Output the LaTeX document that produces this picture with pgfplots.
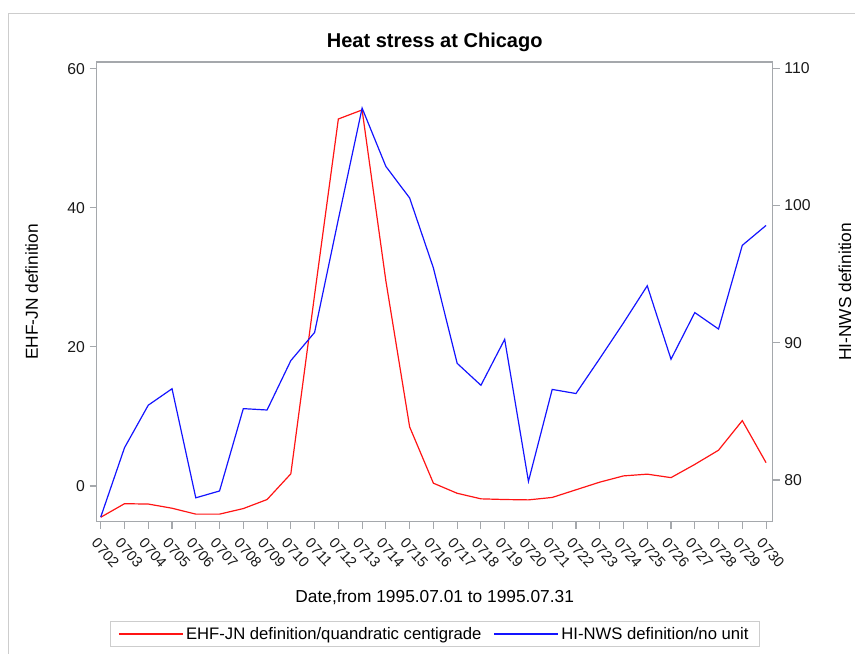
\documentclass[border=0pt]{standalone}
\usepackage{pgfplots}
\pgfplotsset{compat=1.18}
\usepackage{pgfplotstable}
\usepackage{fontspec}
\setmainfont{Liberation Sans}

\definecolor{framegray}{RGB}{165,168,172}
\definecolor{bordergray}{RGB}{205,205,205}
\definecolor{myred}{RGB}{255,20,20}
\definecolor{myblue}{RGB}{20,20,255}

\pgfplotstableread{
x ehf hi
0 -4.5 77.3
1 -2.55 82.35
2 -2.6 85.45
3 -3.2 86.65
4 -4.05 78.7
5 -4.05 79.2
6 -3.25 85.2
7 -1.95 85.1
8 1.75 88.7
9 27.5 90.75
10 52.8 99.0
11 54.1 107.1
12 29.5 102.85
13 8.5 100.55
14 0.4 95.45
15 -1.05 88.5
16 -1.85 86.9
17 -1.95 90.25
18 -2.0 79.9
19 -1.65 86.6
20 -0.55 86.3
21 0.55 88.85
22 1.45 91.45
23 1.7 94.15
24 1.2 88.8
25 3.1 92.2
26 5.15 91.0
27 9.4 97.1
28 3.35 98.55
}\datatable

\begin{document}
\begin{tikzpicture}
\useasboundingbox (0pt,0pt) rectangle (641.25pt,489.75pt);
\draw[bordergray, line width=0.8pt] (6.225pt,-5pt) -- (6.225pt,479.475pt) -- (650pt,479.475pt);

\begin{axis}[
  at={(72.525pt,98.475pt)}, anchor=south west,
  scale only axis, width=507pt, height=344.775pt,
  xmin=-0.17, xmax=28.28, ymin=-5.14, ymax=61.0,
  axis line style={framegray, line width=0.8pt},
  tick style={framegray, line width=0.8pt},
  xtick={0,...,28},
  xticklabels={0702,0703,0704,0705,0706,0707,0708,0709,0710,0711,0712,0713,0714,0715,0716,0717,0718,0719,0720,0721,0722,0723,0724,0725,0726,0727,0728,0729,0730},
  ytick={0,20,40,60},
  xtick pos=bottom, ytick pos=left,
  tick align=outside, major tick length=5.25pt,
  /pgf/number format/assume math mode=true,
  yticklabel style={font=\fontsize{11.8}{14}\selectfont, text=black!90},
  xticklabel style={font=\fontsize{11}{13}\selectfont, text=black!90, rotate=-48, anchor=north west, yshift=-2pt},
  title={Heat stress at Chicago},
  title style={at={(axis description cs:0.5,1.026)}, anchor=center, yshift=0pt, font=\fontsize{15}{18}\selectfont\bfseries},
  xlabel={Date,from 1995.07.01 to 1995.07.31},
  xlabel style={at={(axis description cs:0.5,-0.165)}, anchor=center, font=\fontsize{13}{15}\selectfont},
  ylabel={EHF-JN definition},
  ylabel style={at={(axis description cs:-0.0962,0.5)}, anchor=center, font=\fontsize{13}{15}\selectfont},
]
\addplot[myred, line width=0.9pt, mark=none] table[x=x, y=ehf] {\datatable};
\end{axis}

\begin{axis}[
  at={(72.525pt,98.475pt)}, anchor=south west,
  scale only axis, width=507pt, height=344.775pt,
  xmin=-0.17, xmax=28.28, ymin=76.96, ymax=110.46,
  axis x line=none, axis y line*=right,
  axis line style={framegray, line width=0.8pt},
  tick style={framegray, line width=0.8pt},
  ytick={80,90,100,110},
  tick align=outside, major tick length=5.25pt,
  /pgf/number format/assume math mode=true,
  yticklabel style={font=\fontsize{11.8}{14}\selectfont, text=black!90},
  ylabel={HI-NWS definition},
  ylabel style={at={(axis description cs:1.107,0.5)}, anchor=center, font=\fontsize{13}{15}\selectfont},
  legend style={at={(axis description cs:0.5,-0.2443)}, anchor=center, legend columns=2,
    draw=bordergray, line width=0.8pt, font=\fontsize{12.5}{15}\selectfont, inner xsep=6pt,
    /tikz/every even column/.append style={column sep=7pt}},
  legend image code/.code={\draw[#1] (0pt,0pt) -- (48pt,0pt);},
]
\addlegendimage{myred, line width=0.9pt}
\addlegendentry{EHF-JN definition/quandratic centigrade}
\addplot[myblue, line width=0.9pt, mark=none] table[x=x, y=hi] {\datatable};
\addlegendentry{HI-NWS definition/no unit}
\end{axis}
\end{tikzpicture}
\end{document}
